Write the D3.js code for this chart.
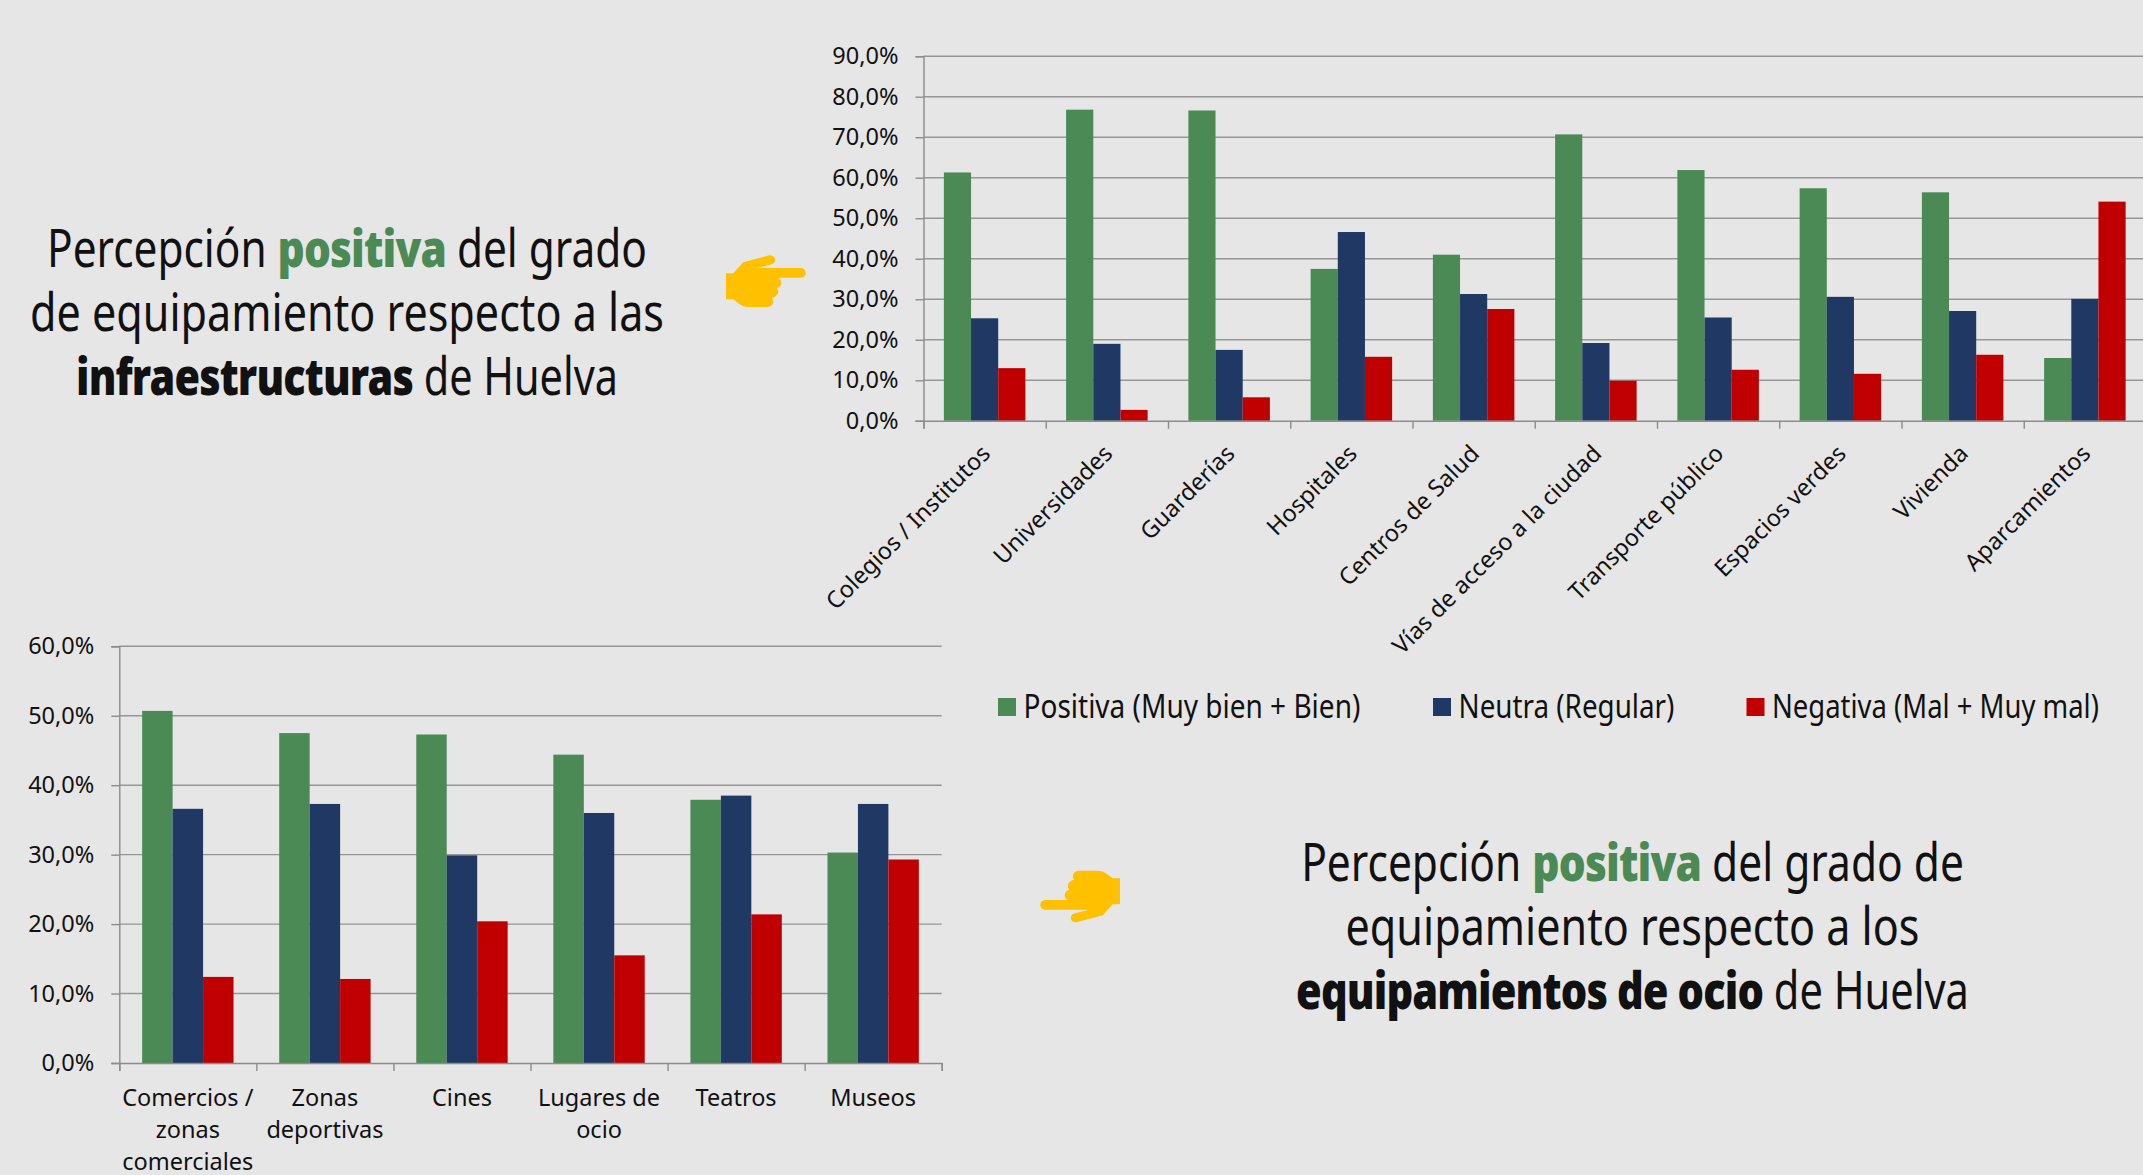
<!DOCTYPE html>
<html>
<head>
<meta charset="utf-8">
<script src="https://d3js.org/d3.v7.min.js"></script>
<style>
html, body { margin: 0; padding: 0; background: #e6e6e6; overflow: hidden; }
text { font-family: "Noto Sans", sans-serif; fill: #111; white-space: pre; }
</style>
</head>
<body>
<div id="chart"></div>
<script>
// Series
const seriesNames = ['Positiva (Muy bien + Bien)', 'Neutra (Regular)', 'Negativa (Mal + Muy mal)'];
const seriesKeys = ['positiva', 'neutra', 'negativa'];
const seriesColors = ['#4b8a55', '#1f3864', '#c00000'];

// Infraestructuras chart
const infraCategories = ['Colegios / Institutos', 'Universidades', 'Guarderías', 'Hospitales', 'Centros de Salud',
    'Vías de acceso a la ciudad', 'Transporte público', 'Espacios verdes', 'Vivienda', 'Aparcamientos'];
const infraPositiva = [61.3, 76.8, 76.6, 37.5, 41.0, 70.7, 61.9, 57.4, 56.4, 15.5];
const infraNeutra = [25.3, 19.0, 17.5, 46.6, 31.3, 19.2, 25.5, 30.6, 27.1, 30.1];
const infraNegativa = [13.0, 2.7, 5.8, 15.8, 27.6, 9.9, 12.6, 11.6, 16.3, 54.1];
const infraTicks = [0, 10, 20, 30, 40, 50, 60, 70, 80, 90];

// Ocio chart
const ocioCategories = ['Comercios / zonas comerciales', 'Zonas deportivas', 'Cines', 'Lugares de ocio', 'Teatros', 'Museos'];
const ocioLabelLines = [['Comercios /', 'zonas', 'comerciales'], ['Zonas', 'deportivas'], ['Cines'], ['Lugares de', 'ocio'], ['Teatros'], ['Museos']];
const ocioPositiva = [50.7, 47.5, 47.3, 44.4, 37.9, 30.3];
const ocioNeutra = [36.6, 37.3, 29.9, 36.0, 38.5, 37.3];
const ocioNegativa = [12.4, 12.1, 20.4, 15.5, 21.4, 29.3];
const ocioTicks = [0, 10, 20, 30, 40, 50, 60];

// Titles: each run is [text, weight, colour]
const titleInfra = [
    [['Percepción ', 400, '#111'], ['positiva', 900, '#4b8a55'], [' del grado', 400, '#111']],
    [['de equipamiento respecto a las', 400, '#111']],
    [['infraestructuras', 900, '#111'], [' de Huelva', 400, '#111']]
];
const titleOcio = [
    [['Percepción ', 400, '#111'], ['positiva', 900, '#4b8a55'], [' del grado de', 400, '#111']],
    [['equipamiento respecto a los', 400, '#111']],
    [['equipamientos de ocio', 900, '#111'], [' de Huelva', 400, '#111']]
];

const width = 2143;
const height = 1175;
const svg = d3.select('#chart').append('svg')
    .attr('width', width)
    .attr('height', height)
    .style('display', 'block');

const formatPct = v => v.toFixed(1).replace('.', ',') + '%';

// Shared grouped bar chart
function drawChart(o) {
    const g = svg.append('g');
    const n = o.categories.length;
    const x = d3.scaleBand().domain(d3.range(n)).range([o.left, o.right]);
    const xInner = d3.scaleBand().domain(seriesKeys).range([0, x.bandwidth()]).paddingOuter(0.75).paddingInner(0);
    const xEdges = d3.scaleLinear().domain([0, n]).range([o.left, o.right]);
    const y = d3.scaleLinear().domain([0, o.max]).range([o.bottom, o.top]);

    // gridlines
    g.selectAll('.grid')
        .data(o.ticks.slice(1))
        .enter()
        .append('line')
        .attr('class', 'grid')
        .attr('x1', o.left)
        .attr('x2', o.right)
        .attr('y1', d => y(d))
        .attr('y2', d => y(d))
        .style('stroke', '#969696')
        .style('stroke-width', 1.4);

    // bars
    seriesKeys.forEach((key, s) => {
        g.selectAll('.bar-' + key)
            .data(o.values[s])
            .enter()
            .append('rect')
            .attr('class', 'bar-' + key)
            .attr('x', (d, i) => x(i) + xInner(key))
            .attr('y', d => y(d))
            .attr('width', xInner.bandwidth())
            .attr('height', d => y(0) - y(d))
            .style('fill', seriesColors[s]);
    });

    // axes
    const yAxis = g.append('g')
        .attr('transform', `translate(${o.left},0)`)
        .call(d3.axisLeft(y).tickValues(o.ticks).tickFormat(formatPct).tickSize(8).tickPadding(17));
    const xAxis = g.append('g')
        .attr('transform', `translate(0,${o.bottom})`)
        .call(d3.axisBottom(xEdges).tickValues(d3.range(n + 1)).tickFormat('').tickSize(8));
    [yAxis, xAxis].forEach(a => {
        a.selectAll('path, line').style('stroke', '#8c8c8c').style('stroke-width', 1.4);
        a.selectAll('text').style('font-family', '"Noto Sans", sans-serif').style('font-size', o.tickFont + 'px').style('fill', '#111');
    });
    return x;
}

// Top chart
const xInfra = drawChart({
    categories: infraCategories,
    values: [infraPositiva, infraNeutra, infraNegativa],
    ticks: infraTicks,
    max: 90,
    left: 923.5,
    right: 2146,
    top: 56.2,
    bottom: 420.8,
    tickFont: 23.5
});

svg.append('g').selectAll('text')
    .data(infraCategories)
    .enter()
    .append('text')
    .attr('transform', (d, i) => `translate(${xInfra(i) + xInfra.bandwidth() / 2 + 7},455) rotate(-45)`)
    .attr('text-anchor', 'end')
    .style('font-size', '23.5px')
    .text(d => d);

// Bottom chart
const xOcio = drawChart({
    categories: ocioCategories,
    values: [ocioPositiva, ocioNeutra, ocioNegativa],
    ticks: ocioTicks,
    max: 60,
    left: 119.3,
    right: 941.7,
    top: 646.3,
    bottom: 1063,
    tickFont: 23.5
});

const ocioLabels = svg.append('g').selectAll('text')
    .data(ocioLabelLines)
    .enter()
    .append('text')
    .attr('text-anchor', 'middle')
    .style('font-size', '23.5px');
ocioLabels.selectAll('tspan')
    .data((lines, i) => lines.map(line => ({ line, i })))
    .enter()
    .append('tspan')
    .attr('x', d => xOcio(d.i) + xOcio.bandwidth() / 2)
    .attr('y', (d, j) => 1105.5 + j * 32)
    .text(d => d.line);

// Legend
const legendSwatchX = [998, 1433, 1746.5];
const legendTextWidth = [337, 216, 327];
seriesNames.forEach((name, s) => {
    const item = svg.append('g').attr('transform', `translate(${legendSwatchX[s]},0)`);
    item.append('rect')
        .attr('y', 698)
        .attr('width', 18)
        .attr('height', 18)
        .style('fill', seriesColors[s]);
    const label = item.append('text')
        .style('font-size', '32px')
        .text(name);
    const k = legendTextWidth[s] / label.node().getComputedTextLength();
    label.attr('transform', `translate(25.5,718) scale(${k},1)`);
});

// Title block, every line squeezed to the width seen in the picture
function drawTitle(lines, cx, baselines, widths) {
    lines.forEach((runs, i) => {
        const t = svg.append('text')
            .attr('text-anchor', 'middle')
            .style('font-size', '52px');
        runs.forEach(r => {
            t.append('tspan')
                .style('font-weight', r[1])
                .style('letter-spacing', r[1] > 400 ? '-1.1px' : '0')
                .style('fill', r[2])
                .text(r[0]);
        });
        const k = widths[i] / t.node().getComputedTextLength();
        t.attr('transform', `translate(${cx},${baselines[i]}) scale(${k},1)`);
    });
}
drawTitle(titleInfra, 347, [267, 331, 395], [600, 634, 542]);
drawTitle(titleOcio, 1632.5, [881, 945, 1009], [663, 574, 673]);

// Pointing hands
const handPath = 'M78,130 L100,130 L130,97 L208,76 Q226,78 226,90 Q224,102 210,104 L170,114 L303,114 Q317,116 317,128 '
    + 'Q317,141 303,143 L235,143 Q245,150 244,158 Q243,170 230,174 Q237,182 234,190 Q230,200 216,204 Q222,214 218,222 '
    + 'Q212,231 200,231 L140,231 Q128,229 118,222 L100,208 L78,208 Z';
svg.append('path')
    .attr('d', handPath)
    .attr('transform', 'translate(700,230) scale(0.3333)')
    .style('fill', '#ffc000');
svg.append('path')
    .attr('d', handPath)
    .attr('transform', 'translate(1020,850) scale(0.3333) translate(378,293) rotate(180)')
    .style('fill', '#ffc000');
</script>
</body>
</html>
